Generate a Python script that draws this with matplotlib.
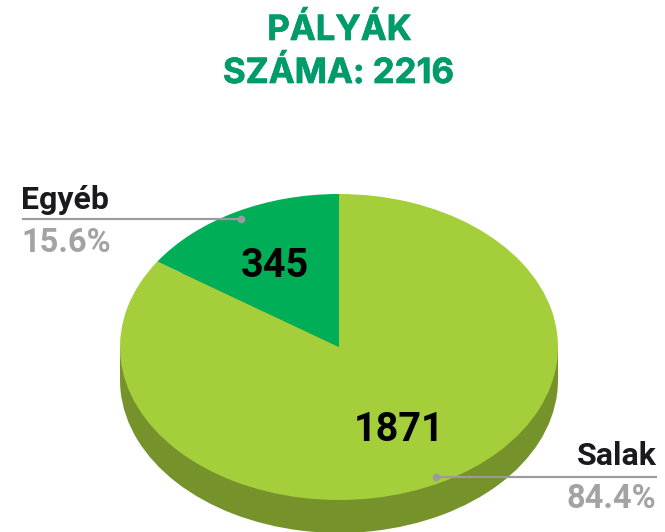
import matplotlib
matplotlib.use('agg')
import matplotlib.pyplot as plt
import matplotlib.patheffects as pe
import numpy as np

labels = ['Salak', 'Egyéb']
counts = [1871, 345]
percents = ['84.4%', '15.6%']
title_lines = ['PÁLYÁK', 'SZÁMA: 2216']
colors = ['#A5CE3B', '#00AE58']
side_color = '#75922B'
depth = 0.215

W, H = 665, 532
fig = plt.figure(figsize=(W/100, H/100), dpi=100)

# pie squashed into an ellipse: axes box is the top face of the disc
ax = fig.add_axes([120/W, (H-500)/H, 438/W, 306/H])
ax.pie(counts, colors=[side_color]*2, startangle=90, counterclock=False, radius=1,
       center=(0, -depth), wedgeprops={'linewidth': 0, 'clip_on': False})
ax.fill_between([-1, 1], [0, 0], [-depth, -depth], color=side_color, linewidth=0, clip_on=False)
ax.pie(counts, colors=colors, startangle=90, counterclock=False, radius=1,
       wedgeprops={'linewidth': 0, 'clip_on': False})
ax.set_aspect('auto')
ax.set_xlim(-1, 1)
ax.set_ylim(-1, 1)
ax.axis('off')

# overlay in pixel coordinates for text and leader lines
ov = fig.add_axes([0, 0, 1, 1], facecolor='none')
ov.set_xlim(0, W)
ov.set_ylim(H, 0)
ov.axis('off')

title_fx = [pe.withStroke(linewidth=0.5, foreground='#009B6B')]
ov.text(339.5, 40, title_lines[0], ha='center', va='baseline', fontsize=25,
        family='Inter', weight='bold', color='#009B6B', path_effects=title_fx)
ov.text(338.5, 83, title_lines[1], ha='center', va='baseline', fontsize=25,
        family='Inter', weight='bold', color='#009B6B', path_effects=title_fx)

grey = '#9B9B9D'
ov.plot([22, 241], [218.5, 218.5], color=grey, lw=1.6, solid_capstyle='butt')
ov.plot([241], [218.5], 'o', color=grey, ms=5.5, mew=0)
ov.plot([436, 657], [476.5, 476.5], color=grey, lw=1.6, solid_capstyle='butt')
ov.plot([436], [476.5], 'o', color=grey, ms=5.5, mew=0)

ov.text(21, 209, labels[1], ha='left', va='baseline', fontsize=23,
        family='Roboto', weight='bold', color='#1A1A1C')
ov.text(21, 252, percents[1], ha='left', va='baseline', fontsize=23.5,
        family='Roboto', weight='bold', color='#A3A3A3')
ov.text(657, 465, labels[0], ha='right', va='baseline', fontsize=23,
        family='Roboto', weight='bold', color='#1A1A1C')
ov.text(656, 508, percents[0], ha='right', va='baseline', fontsize=23.5,
        family='Roboto', weight='bold', color='#A3A3A3')

ov.text(274.5, 277, str(counts[1]), ha='center', va='baseline', fontsize=28.5,
        family='Roboto', weight='bold', color='black')
ov.text(399, 441, str(counts[0]), ha='center', va='baseline', fontsize=28.5,
        family='Roboto', weight='bold', color='black')

plt.savefig('out.png', dpi=100)
